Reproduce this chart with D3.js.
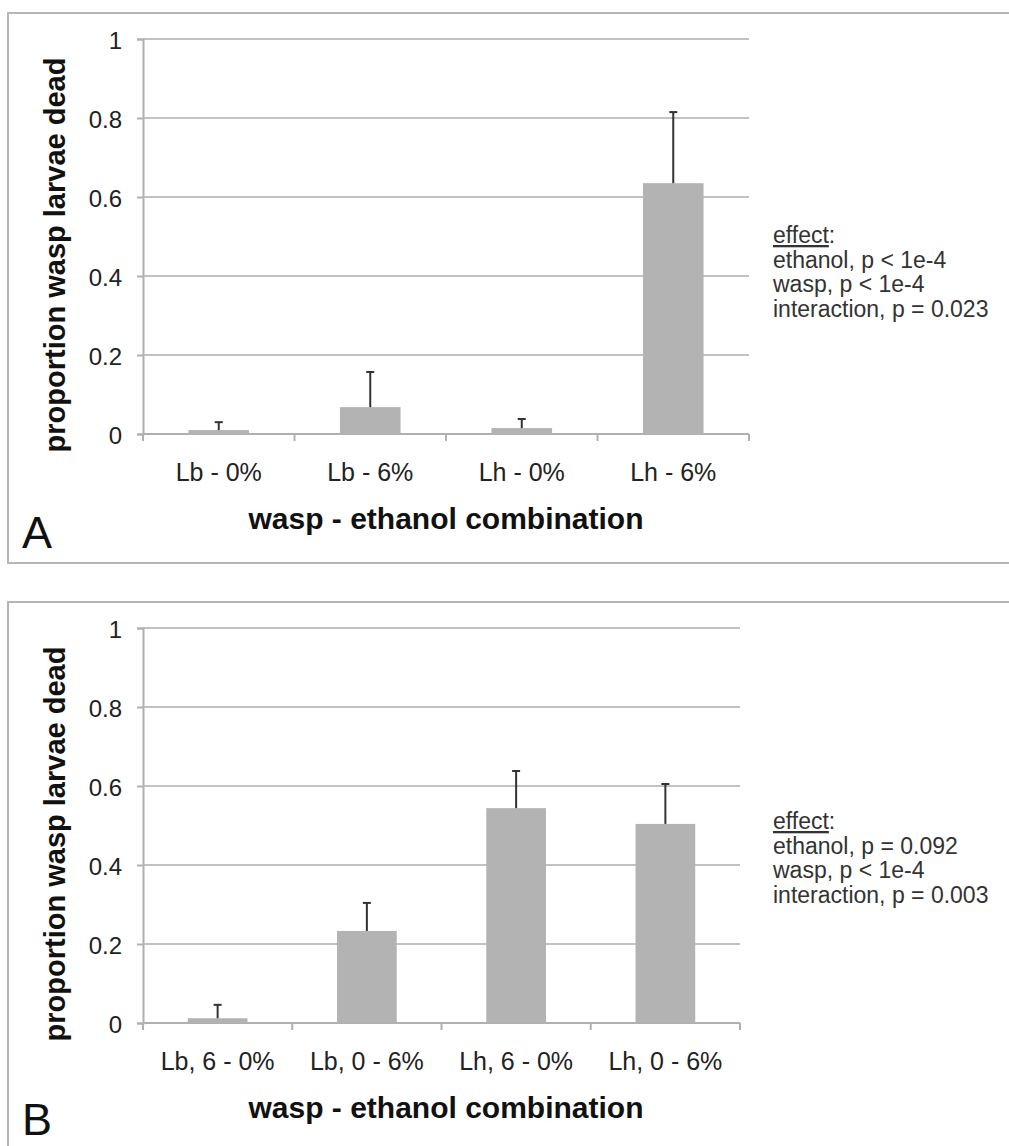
<!DOCTYPE html>
<html>
<head>
<meta charset="utf-8">
<script src="https://cdn.jsdelivr.net/npm/d3@7"></script>
<style>
  body { margin: 0; background: #fff; }
  svg { display: block; font-family: "Liberation Sans", Arial, Helvetica, sans-serif; }
</style>
</head>
<body>
<svg id="chart" width="1009" height="1146"></svg>
<script>
// panel A
var catsA = ["Lb - 0%", "Lb - 6%", "Lh - 0%", "Lh - 6%"];
var meanA = [0.01, 0.068, 0.015, 0.635];
var errA  = [0.02, 0.089, 0.023, 0.18];
var statsA = ["ethanol, p < 1e-4", "wasp, p < 1e-4", "interaction, p = 0.023"];

// panel B
var catsB = ["Lb, 6 - 0%", "Lb, 0 - 6%", "Lh, 6 - 0%", "Lh, 0 - 6%"];
var meanB = [0.012, 0.233, 0.544, 0.504];
var errB  = [0.034, 0.071, 0.094, 0.101];
var statsB = ["ethanol, p = 0.092", "wasp, p < 1e-4", "interaction, p = 0.003"];

var yTicks = [0, 0.2, 0.4, 0.6, 0.8, 1];

var svg = d3.select("#chart");

function drawPanel(opts) {
  var g = svg.append("g").attr("transform", "translate(0," + opts.top + ")");

  // panel frame (right / bottom run off the page)
  g.append("rect")
    .attr("x", 8).attr("y", 0)
    .attr("width", 1030).attr("height", opts.frameH)
    .attr("fill", "none").attr("stroke", "#b5b5b5").attr("stroke-width", 2);

  var x = d3.scaleBand()
    .domain(opts.cats)
    .range([143, opts.right])
    .paddingInner(0.6)
    .paddingOuter(0.3);

  var y = d3.scaleLinear().domain([0, 1]).range([opts.plotTop + 395, opts.plotTop]);

  // gridlines
  g.append("g").selectAll("line")
    .data(yTicks.filter(function(d) { return d > 0; }))
    .join("line")
    .attr("x1", 143).attr("x2", opts.right)
    .attr("y1", function(d) { return y(d); })
    .attr("y2", function(d) { return y(d); })
    .attr("stroke", "#c2c2c2").attr("stroke-width", 2);

  // y axis
  var yAxis = g.append("g")
    .attr("transform", "translate(143,0)")
    .call(d3.axisLeft(y).tickValues(yTicks).tickSize(6).tickPadding(15).tickFormat(d3.format("")));
  yAxis.select(".domain").attr("stroke", "#b0b0b0").attr("stroke-width", 2);
  yAxis.selectAll(".tick line").attr("stroke", "#b0b0b0").attr("stroke-width", 2);
  yAxis.selectAll(".tick text")
    .attr("font-size", 24).attr("fill", "#222").attr("dy", "0.4em")
    .attr("font-family", "'Liberation Sans', Arial, sans-serif");

  // x axis line + ticks at band edges
  var step = x.step();
  var edges = d3.range(opts.cats.length + 1).map(function(i) { return 143 + i * step; });
  g.append("line")
    .attr("x1", 143).attr("x2", opts.right)
    .attr("y1", y(0)).attr("y2", y(0))
    .attr("stroke", "#b0b0b0").attr("stroke-width", 2);
  g.append("g").selectAll("line")
    .data(edges)
    .join("line")
    .attr("x1", function(d) { return d; }).attr("x2", function(d) { return d; })
    .attr("y1", y(0)).attr("y2", y(0) + 7)
    .attr("stroke", "#b0b0b0").attr("stroke-width", 2);

  // category labels
  g.append("g").selectAll("text")
    .data(opts.cats)
    .join("text")
    .attr("x", function(d) { return x(d) + x.bandwidth() / 2; })
    .attr("y", y(0) + 47)
    .attr("text-anchor", "middle")
    .attr("font-size", 25).attr("fill", "#222")
    .text(function(d) { return d; });

  // bars
  g.append("g").selectAll("rect")
    .data(opts.means)
    .join("rect")
    .attr("x", function(d, i) { return x(opts.cats[i]); })
    .attr("width", x.bandwidth())
    .attr("y", function(d) { return y(d); })
    .attr("height", function(d) { return y(0) - y(d); })
    .attr("fill", "#b3b3b3");

  // error bars (upper only)
  var eb = g.append("g").attr("stroke", "#333").attr("stroke-width", 2);
  opts.means.forEach(function(m, i) {
    var cx = x(opts.cats[i]) + x.bandwidth() / 2;
    var top = y(m + opts.errs[i]);
    eb.append("line").attr("x1", cx).attr("x2", cx).attr("y1", y(m)).attr("y2", top);
    eb.append("line").attr("x1", cx - 4).attr("x2", cx + 4).attr("y1", top).attr("y2", top);
  });

  // axis titles
  g.append("text")
    .attr("transform", "translate(65," + (opts.plotTop + 216) + ") rotate(-90)")
    .attr("text-anchor", "middle")
    .attr("font-size", 29).attr("font-weight", "bold").attr("fill", "#111")
    .text("proportion wasp larvae dead");

  g.append("text")
    .attr("x", 446).attr("y", y(0) + 95)
    .attr("text-anchor", "middle")
    .attr("font-size", 30).attr("font-weight", "bold").attr("fill", "#111")
    .text("wasp - ethanol combination");

  // panel letter
  g.append("text")
    .attr("x", 22).attr("y", opts.letterY)
    .attr("font-size", 45).attr("fill", "#111")
    .text(opts.letter);

  // effect note
  var note = g.append("text")
    .attr("x", 773).attr("y", opts.noteY)
    .attr("font-size", 23).attr("fill", "#333");
  note.append("tspan").attr("text-decoration", "underline").text("effect");
  note.append("tspan").text(":");
  opts.stats.forEach(function(s, i) {
    g.append("text")
      .attr("x", 773).attr("y", opts.noteY + 24.7 * (i + 1))
      .attr("font-size", 23).attr("fill", "#333")
      .text(s);
  });
}

drawPanel({
  top: 13, frameH: 550, plotTop: 26, right: 749,
  cats: catsA, means: meanA, errs: errA, stats: statsA,
  letter: "A", letterY: 535, noteY: 230
});

drawPanel({
  top: 602, frameH: 600, plotTop: 26, right: 740,
  cats: catsB, means: meanB, errs: errB, stats: statsB,
  letter: "B", letterY: 533, noteY: 227
});
</script>
</body>
</html>
